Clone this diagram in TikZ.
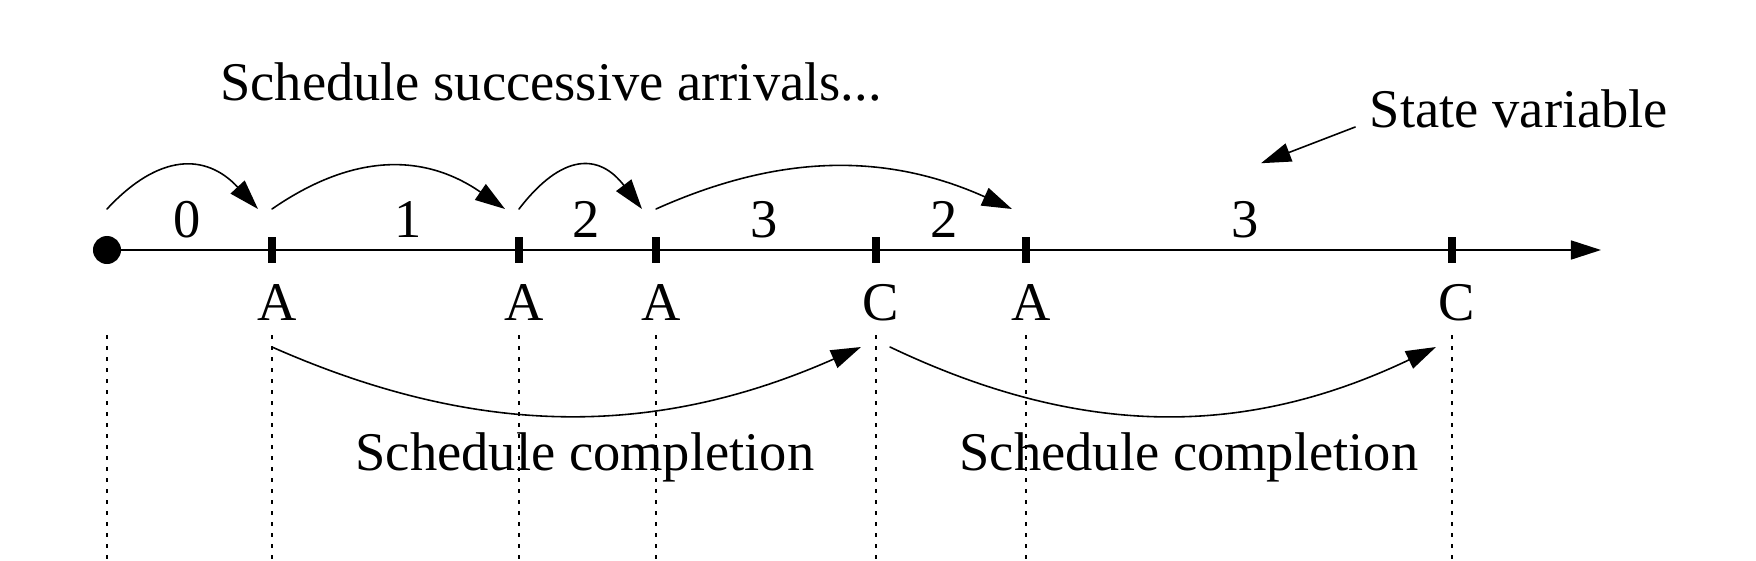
\documentclass[tikz,border=0pt]{standalone}
\usepackage{fontspec}
\setmainfont{Liberation Serif}
\usetikzlibrary{arrows.meta,calc}
\begin{document}
\begin{tikzpicture}[x=0.01cm, y=-0.01cm, font=\fontsize{15.5}{18}\selectfont, line join=round, line cap=round, >={Triangle[length=0.3cm,width=0.19cm]},
	lbl/.style={inner sep=0pt, anchor=base},
	tick/.style={line width=0.08cm, line cap=butt},
	guide/.style={line width=0.4pt, line cap=butt, dash pattern=on 0.04cm off 0.07cm},
	thin/.style={line width=0.45pt}]
	\useasboundingbox (0,0) rectangle (1756,560);
	% event times on the axis
	\foreach \n/\x in {0/107,1/272,2/519,3/656,4/876,5/1026,6/1452}
		\coordinate (t\n) at (\x,250);
	\coordinate (tend) at (1601,250);
	\draw[thin,->] (t0) -- (tend);
	\fill[black] (t0) circle[radius=0.14cm];
	\foreach \n in {1,...,6}
		\draw[tick] ($(t\n)+(0,-13)$) -- ($(t\n)+(0,13)$);
	% state values and events
	\foreach \x/\v [count=\i] in {187/0,408/1,586/2,764/3,944/2,1245/3}
		\node[lbl] (v\i) at (\x,237) {\v};
	\foreach \n/\e in {1/A,2/A,3/A,4/C,5/A,6/C}
		\node[lbl] (e\n) at ($(t\n)+(5,70)$) {\e};
	\foreach \n in {0,...,6}
		\draw[guide] ($(t\n)+(0,85)$) -- ($(t\n)+(0,310)$);
	% arrivals
	\node[lbl] (arr) at (551,100) {Schedule successive arrivals...};
	\foreach \a/\b/\c in {0/1/52,1/2/81,2/3/43,3/5/125}
		\draw[thin,->] ($(t\a)+(0,-41)$) .. controls +(\c,-56) and +(-\c,-56) .. ($(t\b)+(-14,-41)$);
	% completions
	\node[lbl] (comp1) at (585,470) {Schedule completion};
	\node[lbl] (comp2) at (1189,470) {Schedule completion};
	\draw[thin,->] ($(t1)+(0,97)$) .. controls +(206,91) and +(-206,91) .. ($(t4)+(-15,97)$);
	\draw[thin,->] ($(t4)+(14,97)$) .. controls +(191,91) and +(-191,91) .. ($(t6)+(-16,97)$);
	% state variable
	\node[lbl] (sv) at (1519,127) {State variable};
	\coordinate (svtip) at ($(v6)+(16,-56)$);
	\draw[thin,->] ($(sv.base west)+(-14,0)$) -- (svtip);
\end{tikzpicture}
\end{document}
